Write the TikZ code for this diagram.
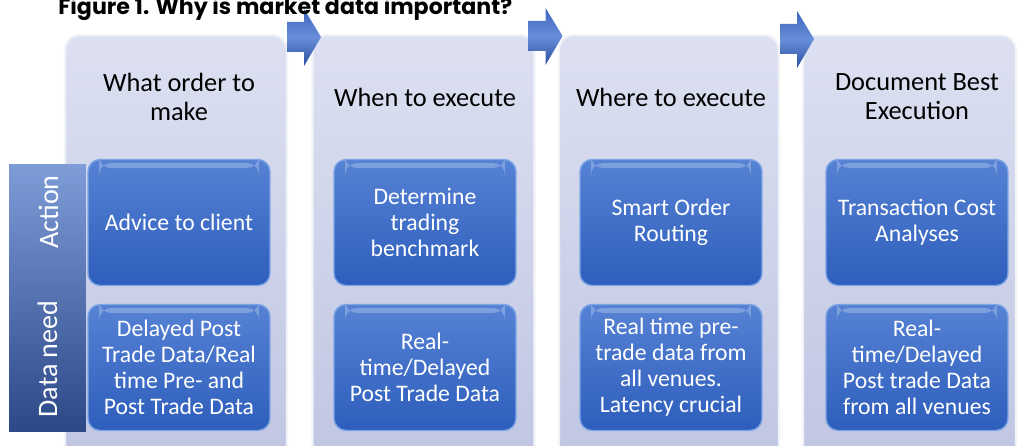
\documentclass[tikz,border=0pt]{standalone}
\usepackage{fontspec}
\setmainfont{Carlito}
\newfontfamily\titlefont{Poppins}
\usetikzlibrary{calc}
\definecolor{colTop}{RGB}{220,224,241}
\definecolor{colBot}{RGB}{192,198,226}
\definecolor{boxTop}{RGB}{86,130,212}
\definecolor{boxBot}{RGB}{46,94,188}
\definecolor{boxLine}{RGB}{125,165,230}
\definecolor{barTop}{RGB}{126,156,216}
\definecolor{barBot}{RGB}{44,72,135}
\definecolor{arrTop}{RGB}{62,102,190}
\definecolor{arrMid}{RGB}{104,142,216}
\definecolor{arrBot}{RGB}{40,78,160}
\begin{document}
\begin{tikzpicture}[x=0.02cm,y=-0.02cm,
  column/.style={rounded corners=0.3cm,top color=colTop,bottom color=colBot,draw=white!60!colTop,line width=1.2pt,minimum width=4.44cm,minimum height=8.6cm},
  header/.style={align=center,font=\fontsize{15}{16.5}\selectfont},
  bluebox/.style={rounded corners=0.24cm,top color=boxTop,bottom color=boxBot,draw=boxLine,line width=0.8pt,minimum width=3.64cm,minimum height=2.52cm,text=white,align=center,font=\fontsize{13.5}{14.8}\selectfont,
    path picture={\fill[white,opacity=0.25] ($(path picture bounding box.north west)+(0.22cm,-0.07cm)$) rectangle ($(path picture bounding box.north east)+(-0.22cm,-0.17cm)$);}},
  sidebar/.style={top color=barTop,bottom color=barBot,minimum width=1.54cm,minimum height=5.36cm},
  sidelabel/.style={rotate=90,anchor=base,text=white,font=\fontsize{16}{18}\selectfont},
  blockarrow/.style={top color=arrTop,bottom color=arrBot,middle color=arrMid}]
\clip (0,0) rectangle (1018,446);
% columns
\node[column] (col1) at (176,250) {};
\node[column] (col2) at (423.5,250) {};
\node[column,minimum width=4.4cm] (col3) at (669,250) {};
\node[column,minimum width=4.26cm] (col4) at (909.5,250) {};
% arrows between the columns
\path[blockarrow] ($(col1.north east)+(-1,-12)$) -- ++(17,0) -- ++(0,-13) -- ++(17,28) -- ++(-17,29) -- ++(0,-14) -- ++(-17,0) -- cycle;
\path[blockarrow] ($(col2.north east)+(-7,-13)$) -- ++(17,0) -- ++(0,-13) -- ++(17,28) -- ++(-17,29) -- ++(0,-14) -- ++(-17,0) -- cycle;
\path[blockarrow] ($(col3.north east)+(0,-10)$) -- ++(17,0) -- ++(0,-13) -- ++(17,28) -- ++(-17,29) -- ++(0,-14) -- ++(-17,0) -- cycle;
\node[anchor=base west,inner sep=0pt,font=\titlefont\bfseries\fontsize{12.6}{14}\selectfont] (title) at (58,15) {Figure 1. Why is market data important?};
% headers
\node[header] (head1) at (179,97) {What order to\\make};
\node[header] (head2) at (425,97) {When to execute};
\node[header] (head3) at (671,97) {Where to execute};
\node[header] (head4) at (917,97) {Document Best\\Execution};
% action row
\node[bluebox] (act1) at (179,222.5) {Advice to client};
\node[bluebox] (act2) at (425,222.5) {Determine\\trading\\benchmark};
\node[bluebox] (act3) at (671,222.5) {Smart Order\\Routing};
\node[bluebox] (act4) at (917,222.5) {Transaction Cost\\Analyses};
% data need row
\node[bluebox] (need1) at (179,367.5) {Delayed Post\\Trade Data/Real\\time Pre- and\\Post Trade Data};
\node[bluebox] (need2) at (425,367.5) {Real-\\time/Delayed\\Post Trade Data};
\node[bluebox] (need3) at (671,367.5) {Real time pre-\\trade data from\\all venues.\\Latency crucial};
\node[bluebox] (need4) at (917,367.5) {Real-\\time/Delayed\\Post trade Data\\from all venues};
% left bar
\node[sidebar] (bar) at (47.5,298) {};
\node[sidelabel] (action) at (58,212) {Action};
\node[sidelabel] (dataneed) at (57,359) {Data need};
\end{tikzpicture}
\end{document}
